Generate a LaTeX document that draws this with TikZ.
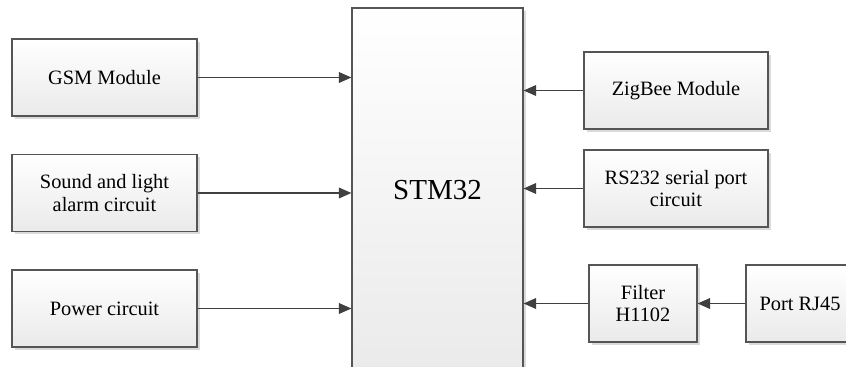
\documentclass[tikz,border=0pt]{standalone}
\usepackage{fontspec}
\setmainfont{Liberation Serif}
\usepackage{tikz}
\usetikzlibrary{arrows.meta, positioning, shadows}
\definecolor{mLine}{HTML}{404040}
\definecolor{mBorder}{HTML}{555555}
\definecolor{mShade}{HTML}{EAEAEA}
\definecolor{mShadow}{HTML}{DADADA}

\begin{document}
\begin{tikzpicture}[
      blk/.style={draw=mBorder, line width=0.6pt, top color=white, bottom color=mShade,
        drop shadow={shadow xshift=0.06cm, shadow yshift=-0.06cm, fill=mShadow, opacity=1},
        minimum width=3.7cm, minimum height=1.54cm, align=center, inner sep=1pt,
        font=\fontsize{11.6}{13}\selectfont},
      arr/.style={draw=mLine, line width=1pt, -{Triangle[length=2.5mm, width=2.1mm]}}]
    \useasboundingbox (0,0) rectangle (16.92,-7.34);
    \node[blk, minimum width=3.42cm, minimum height=7.28cm, font=\fontsize{16.5}{19}\selectfont] (stm) at (8.75,-3.80) {STM32};
    \node[blk] (gsm)   at (2.09,-1.55) {GSM Module};
    \node[blk] (sound) at (2.09,-3.86) {Sound and light\\alarm circuit};
    \node[blk] (power) at (2.09,-6.17) {Power circuit};
    \node[blk, minimum width=3.68cm] (zig) at (13.52,-1.81) {ZigBee Module};
    \node[blk, minimum width=3.68cm] (rs)  at (13.52,-3.77) {RS232 serial port\\circuit};
    \node[blk, minimum width=2.16cm] (filt) at (12.86,-6.07) {Filter\\H1102};
    \node[blk, minimum width=2.16cm] (port) at (16.00,-6.07) {Port RJ45};
    \draw[arr] (gsm.east) -- (gsm.east -| stm.west);
    \draw[arr] (sound.east) -- (sound.east -| stm.west);
    \draw[arr] (power.east) -- (power.east -| stm.west);
    \draw[arr] (zig.west) -- (zig.west -| stm.east);
    \draw[arr] (rs.west) -- (rs.west -| stm.east);
    \draw[arr] (filt.west) -- (filt.west -| stm.east);
    \draw[arr] (port.west) -- (filt.east);
  \end{tikzpicture}
\end{document}
